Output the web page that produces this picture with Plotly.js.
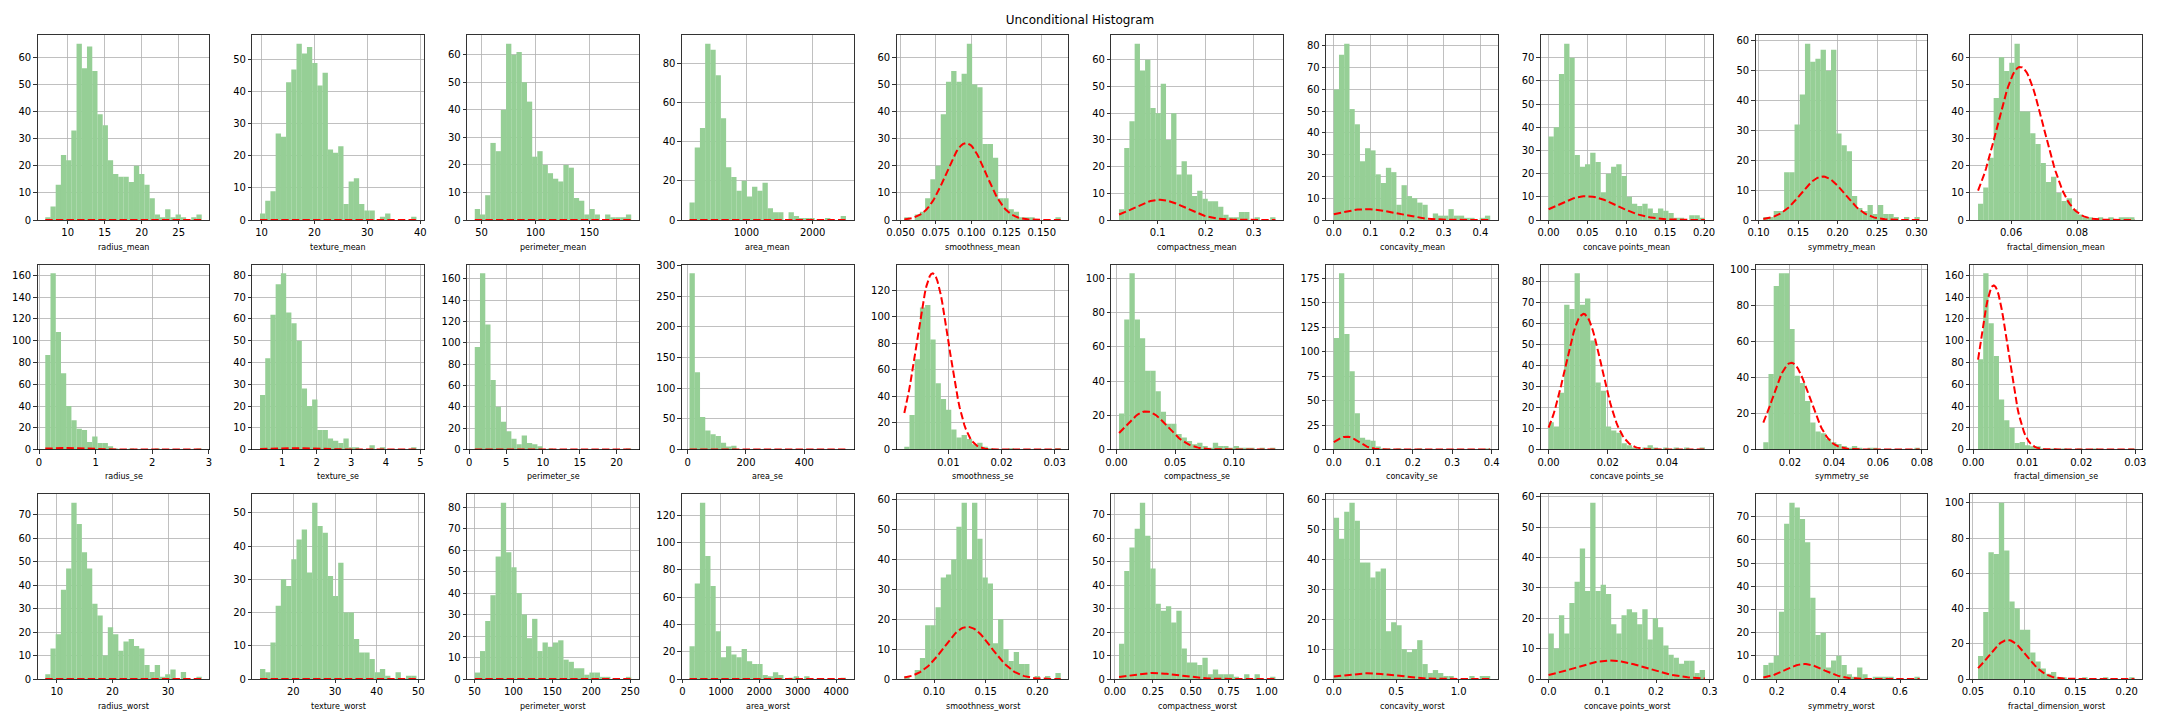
<!DOCTYPE html>
<html>
<head>
<meta charset="utf-8">
<script src="https://cdn.plot.ly/plotly-3.0.1.min.js"></script>
<style>
  html, body { margin: 0; padding: 0; background: #fff; }
  #chart { width: 2160px; height: 720px; }
</style>
</head>
<body>
<div id="chart"></div>
<script>
// --- дані: 30 гістограм (по 30 бінів від min до max) ---

const FEATURES = ['radius', 'texture', 'perimeter', 'area', 'smoothness', 'compactness',
    'concavity', 'concave points', 'symmetry', 'fractal_dimension'];
const SUFFIXES = ['mean', 'se', 'worst'];

// межі даних (min / max) та параметри нормального розподілу (mean / std)
const minMean = [6.981, 9.71, 43.79, 143.5, 0.05263, 0.01938, 0, 0, 0.106, 0.04996];
const maxMean = [28.11, 39.28, 188.5, 2501, 0.1634, 0.3454, 0.4268, 0.2012, 0.304, 0.09744];
const avgMean = [14.127, 19.29, 91.97, 654.9, 0.09636, 0.1043, 0.0888, 0.04892, 0.1812, 0.0628];
const sdMean = [3.524, 4.301, 24.30, 351.9, 0.01406, 0.05281, 0.0797, 0.0388, 0.02741, 0.00706];

const minSe = [0.1115, 0.3602, 0.757, 6.802, 0.001713, 0.002252, 0, 0, 0.007882, 0.0008948];
const maxSe = [2.873, 4.885, 21.98, 542.2, 0.03113, 0.1354, 0.396, 0.05279, 0.07895, 0.02984];
const avgSe = [0.4052, 1.2169, 2.866, 40.34, 0.007041, 0.02548, 0.03189, 0.0118, 0.02054, 0.003795];
const sdSe = [0.2773, 0.5516, 2.022, 45.49, 0.003003, 0.01791, 0.03019, 0.00617, 0.008266, 0.002646];

const minWorst = [7.93, 12.02, 50.41, 185.2, 0.07117, 0.02729, 0, 0, 0.1565, 0.05504];
const maxWorst = [36.04, 49.54, 251.2, 4254, 0.2226, 1.058, 1.252, 0.291, 0.6638, 0.2075];
const avgWorst = [16.27, 25.68, 107.26, 880.6, 0.1324, 0.2543, 0.2722, 0.1146, 0.2901, 0.08395];
const sdWorst = [4.833, 6.146, 33.60, 569.4, 0.02283, 0.1573, 0.2086, 0.06573, 0.06187, 0.01806];

// кількості у бінах
const radiusMean = [1,5,13,24,22,33,65,56,64,55,39,35,22,17,16,16,14,20,17,13,8,2,1,4,1,2,1,0,1,2];
const textureMean = [2,6,9,27,26,43,47,55,52,54,49,42,46,22,21,23,5,12,13,5,3,3,0,1,2,0,0,0,0,1];
const perimeterMean = [4,2,9,28,25,40,64,60,61,50,43,23,25,20,17,15,14,20,19,8,7,2,4,2,0,2,1,1,1,2];
const areaMean = [9,37,47,90,87,74,52,27,22,15,20,12,17,15,19,6,4,4,0,4,2,1,1,1,0,0,1,0,0,2];
const smoothnessMean = [1,0,2,3,8,15,20,39,51,55,51,54,65,50,49,28,28,23,8,8,4,3,1,1,1,0,0,0,0,1];
const compactnessMean = [4,27,37,66,56,60,42,40,51,30,40,17,22,17,9,11,8,7,7,5,2,1,1,3,3,0,1,0,0,1];
const concavityMean = [60,76,81,51,44,27,33,32,21,17,24,22,7,16,11,10,8,7,0,3,2,2,5,2,2,1,1,0,1,2];
const concavePointsMean = [36,40,63,76,70,28,23,24,29,25,12,20,23,24,19,10,7,6,7,5,3,5,4,3,1,1,0,2,2,1];
const symmetryMean = [1,1,3,3,16,16,32,42,59,53,54,57,50,57,29,25,23,8,4,3,5,2,5,2,2,1,0,1,0,1];
const fractalMean = [6,12,23,45,60,55,58,65,40,40,32,28,21,14,16,10,7,8,4,2,1,1,0,1,0,1,0,1,1,1];

const radiusSe = [87,162,108,70,40,27,19,18,7,12,6,6,3,1,0,0,1,0,0,0,0,1,0,0,0,0,0,0,0,1];
const textureSe = [25,42,62,76,81,63,58,50,28,20,23,9,9,5,4,3,5,1,1,0,0,2,0,1,0,0,0,0,0,1];
const perimeterSe = [96,165,117,65,40,26,17,10,5,13,6,5,3,0,1,0,0,0,0,0,0,0,0,0,0,0,0,0,0,1];
const areaSe = [287,126,53,31,25,22,11,5,6,1,0,0,1,0,0,0,0,0,0,0,0,0,0,0,0,0,0,0,0,1];
const smoothnessSe = [2,26,68,107,109,83,50,38,30,15,9,11,8,4,5,2,1,0,0,0,1,0,0,0,0,0,0,0,0,1];
const compactnessSe = [21,76,103,76,65,46,46,34,22,15,15,9,7,5,3,4,2,1,4,2,2,1,2,1,1,1,0,1,0,1];
const concavitySe = [114,180,118,80,37,12,10,9,3,1,1,0,1,0,0,0,1,0,0,0,0,0,0,0,0,0,0,0,0,1];
const concavePointsSe = [13,11,27,69,67,84,69,72,52,32,28,11,9,8,3,2,1,0,1,2,1,0,1,0,1,0,1,0,0,1];
const symmetrySe = [4,42,91,98,98,67,41,37,27,15,10,9,6,4,3,2,1,2,1,0,1,1,0,0,0,0,0,0,0,1];
const fractalSe = [83,162,116,86,46,27,20,6,7,4,3,3,1,0,1,0,1,0,0,1,0,0,1,0,0,0,0,0,0,1];

const radiusWorst = [2,13,19,38,47,75,66,54,47,32,27,10,22,19,12,16,17,14,13,6,3,6,1,2,4,0,3,0,0,1];
const textureWorst = [3,2,11,22,30,28,36,42,45,32,53,46,44,31,25,35,20,20,12,8,8,6,2,3,1,0,2,0,1,1];
const perimeterWorst = [3,13,27,39,57,82,59,52,40,30,19,28,13,17,15,17,18,9,8,5,5,2,3,3,1,1,0,0,0,1];
const areaWorst = [24,70,129,90,68,35,16,24,18,16,22,13,11,11,3,2,5,3,0,1,2,0,2,0,0,0,0,0,0,1];
const smoothnessWorst = [1,0,3,7,18,18,24,34,35,40,51,59,40,59,47,34,32,12,20,10,6,9,5,5,0,1,0,1,0,2];
const compactnessWorst = [15,46,56,64,75,61,47,32,29,31,24,29,13,7,7,6,9,2,4,2,2,2,1,0,2,0,2,0,0,1];
const concavityWorst = [54,47,56,59,53,39,39,34,36,37,16,19,18,10,9,10,13,5,2,3,2,1,1,0,0,0,1,0,1,1];
const concavePointsWorst = [15,10,21,15,25,32,43,29,58,29,31,28,18,15,21,23,22,18,23,13,20,17,11,8,7,5,6,6,2,3];
const symmetryWorst = [6,7,10,29,67,76,74,69,59,35,19,20,5,8,10,6,2,1,5,2,0,1,1,1,1,0,0,0,0,1];
const fractalWorst = [13,38,72,71,100,73,44,40,28,28,15,10,6,3,4,1,1,0,0,0,1,0,0,0,1,0,0,0,0,1];

// крок і формат поділок
const xStepMean = [5, 10, 50, 1000, 0.025, 0.1, 0.1, 0.05, 0.05, 0.02];
const xFmtMean = ['d', 'd', 'd', 'd', '.3f', '.1f', '.1f', '.2f', '.2f', '.2f'];
const yStepMean = [10, 10, 10, 20, 10, 10, 10, 10, 10, 10];
const xStepSe = [1, 1, 5, 200, 0.01, 0.05, 0.1, 0.02, 0.02, 0.01];
const xFmtSe = ['d', 'd', 'd', 'd', '.2f', '.2f', '.1f', '.2f', '.2f', '.2f'];
const yStepSe = [20, 10, 20, 50, 20, 20, 25, 10, 20, 20];
const xStepWorst = [10, 10, 50, 1000, 0.05, 0.25, 0.5, 0.1, 0.2, 0.05];
const xFmtWorst = ['d', 'd', 'd', 'd', '.2f', '.2f', '.1f', '.1f', '.1f', '.2f'];
const yStepWorst = [10, 10, 10, 20, 10, 10, 10, 10, 10, 20];

const ROWS = [
    { counts: [radiusMean, textureMean, perimeterMean, areaMean, smoothnessMean, compactnessMean,
        concavityMean, concavePointsMean, symmetryMean, fractalMean],
      lo: minMean, hi: maxMean, mu: avgMean, sd: sdMean, xStep: xStepMean, xFmt: xFmtMean, yStep: yStepMean },
    { counts: [radiusSe, textureSe, perimeterSe, areaSe, smoothnessSe, compactnessSe,
        concavitySe, concavePointsSe, symmetrySe, fractalSe],
      lo: minSe, hi: maxSe, mu: avgSe, sd: sdSe, xStep: xStepSe, xFmt: xFmtSe, yStep: yStepSe },
    { counts: [radiusWorst, textureWorst, perimeterWorst, areaWorst, smoothnessWorst, compactnessWorst,
        concavityWorst, concavePointsWorst, symmetryWorst, fractalWorst],
      lo: minWorst, hi: maxWorst, mu: avgWorst, sd: sdWorst, xStep: xStepWorst, xFmt: xFmtWorst, yStep: yStepWorst }
];

// --- геометрія сторінки ---
const W = 2160, H = 720;
const COL_LEFT = 37.5, COL_PITCH = 214.75, AX_W = 172;
const ROW_TOP = 35, ROW_PITCH = 229.5, AX_H = 185;
const FONT = 'DejaVu Sans, Liberation Sans, sans-serif';

function normalPdf(x, mu, sd) {
    return Math.exp(-0.5 * ((x - mu) / sd) ** 2) / (sd * Math.sqrt(2 * Math.PI));
}

const data = [];
const layout = {
    width: W, height: H,
    margin: { l: 0, r: 0, t: 0, b: 0 },
    paper_bgcolor: '#fff', plot_bgcolor: '#fff',
    showlegend: false,
    hovermode: false,
    font: { family: FONT, color: '#000', size: 10 },
    title: { text: 'Unconditional Histogram', x: 0.5, xanchor: 'center', y: 1 - 20 / H, yanchor: 'middle',
        font: { family: FONT, size: 12, color: '#000' } },
    annotations: []
};

ROWS.forEach((row, r) => {
    FEATURES.forEach((feat, c) => {
        const k = r * 10 + c + 1;
        const xa = k === 1 ? 'x' : 'x' + k;
        const ya = k === 1 ? 'y' : 'y' + k;
        const counts = row.counts[c];
        const lo = row.lo[c], hi = row.hi[c];
        const bw = (hi - lo) / counts.length;

        // стовпці непрозорі (сітка під ними), трохи ширші, щоб не було швів
        data.push({
            type: 'bar', xaxis: xa, yaxis: ya,
            x: counts.map((_, i) => lo + (i + 0.5) * bw),
            y: counts,
            width: counts.map(() => bw * 1.02),
            marker: { color: '#96cf96', line: { width: 0 } }
        });

        // нормальна крива по mean/std ознаки
        const N = 100;
        const cx = Array.from({ length: N }, (_, i) => lo + (hi - lo) * i / (N - 1));
        const cy = cx.map(v => normalPdf(v, row.mu[c], row.sd[c]));
        data.push({
            type: 'scatter', mode: 'lines', xaxis: xa, yaxis: ya,
            x: cx, y: cy,
            line: { color: 'red', width: 2, dash: '7.4px,3.2px' }
        });

        const left = COL_LEFT + c * COL_PITCH;
        const top = ROW_TOP + r * ROW_PITCH;
        const pad = 0.05 * (hi - lo);
        const yMax = 1.05 * Math.max(Math.max(...counts), Math.max(...cy));

        const common = {
            showgrid: true, gridcolor: '#b0b0b0', gridwidth: 0.8,
            zeroline: false,
            showline: true, linecolor: '#000', linewidth: 0.8, mirror: true,
            ticks: 'outside', ticklen: 3.5, tickwidth: 0.8, tickcolor: '#000',
            tickfont: { family: FONT, size: 10, color: '#000' },
            tick0: 0, fixedrange: true
        };
        layout['xaxis' + (k === 1 ? '' : k)] = Object.assign({}, common, {
            domain: [left / W, (left + AX_W) / W],
            anchor: ya,
            range: [lo - pad, hi + pad],
            dtick: row.xStep[c], tickformat: row.xFmt[c]
        });
        layout['yaxis' + (k === 1 ? '' : k)] = Object.assign({}, common, {
            domain: [1 - (top + AX_H) / H, 1 - top / H],
            anchor: xa,
            range: [0, yMax],
            dtick: row.yStep[c], tickformat: 'd'
        });

        layout.annotations.push({
            text: feat + '_' + SUFFIXES[r],
            xref: 'paper', yref: 'paper',
            x: (left + AX_W / 2) / W, y: 1 - (top + AX_H + 27) / H,
            xanchor: 'center', yanchor: 'middle', showarrow: false,
            font: { family: FONT, size: 8, color: '#000' }
        });
    });
});

Plotly.newPlot('chart', data, layout, { staticPlot: true, displayModeBar: false });
</script>
</body>
</html>
